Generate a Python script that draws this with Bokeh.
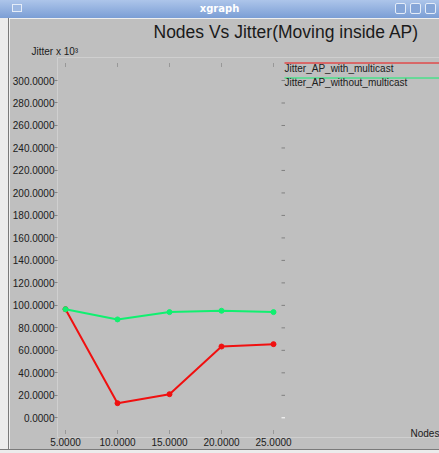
from bokeh.plotting import figure
from bokeh.models import FixedTicker, PrintfTickFormatter, Label, Div, Range1d, ColumnDataSource, Title
from bokeh.layouts import column, row
from bokeh.core.properties import value
from bokeh.embed import file_html
from bokeh.resources import INLINE

# ---------------- data ----------------
nodes = [5, 10, 15, 20, 25]
jitter_with_multicast = [96.6, 13.0, 21.0, 63.4, 65.5]
jitter_without_multicast = [96.6, 87.5, 94.0, 95.2, 94.0]
series_names = ["Jitter_AP_with_multicast", "Jitter_AP_without_multicast"]
series_colors = ["#f01010", "#10f070"]
x_ticks = [5, 10, 15, 20, 25]
y_ticks = [0, 20, 40, 60, 80, 100, 120, 140, 160, 180, 200, 220, 240, 260, 280, 300]
title_text = "Nodes Vs Jitter(Moving inside AP)"
y_label = "Jitter x 10\u00b3"
x_label = "Nodes"

# ---------------- geometry (page pixels) ----------------
BG = "#bfbfbf"
FONT = "Liberation Sans"
WIN_W, WIN_H = 439, 453
BAR_H = 18
LEFT_W = 9
BOTTOM_H = 4
FIG_X, FIG_Y = LEFT_W, BAR_H
FIG_W, FIG_H = WIN_W - LEFT_W, WIN_H - BAR_H - BOTTOM_H
FRAME_L, FRAME_R, FRAME_T, FRAME_B = 57, WIN_W, 57, 437
X5_PX, X25_PX = 65.0, 273.0
Y0_PX, Y300_PX = 417.3, 80.0
sx = (X25_PX - X5_PX) / 20.0
sy = (Y0_PX - Y300_PX) / 300.0


def xd(px):
    return 5 + (px - X5_PX) / sx


def yd(py):
    return (Y0_PX - py) / sy


p = figure(width=FIG_W, height=FIG_H, output_backend="svg", toolbar_location=None,
           x_range=Range1d(xd(FRAME_L), xd(FRAME_R)),
           y_range=Range1d(yd(FRAME_B), yd(FRAME_T)),
           min_border_left=FRAME_L - FIG_X, min_border_right=0,
           min_border_top=FRAME_T - FIG_Y,
           min_border_bottom=FIG_Y + FIG_H - FRAME_B)
p.background_fill_color = BG
p.border_fill_color = BG
p.outline_line_color = None
p.grid.visible = False

# axes
xa = p.xaxis[0]
xa.ticker = FixedTicker(ticks=x_ticks)
xa.formatter = PrintfTickFormatter(format="%.4f")
xa.axis_line_color = None
xa.major_tick_line_color = None
xa.major_tick_in = 0
xa.major_tick_out = 0
xa.minor_tick_line_color = None
xa.major_label_standoff = 0
xa.major_label_text_font = FONT
xa.major_label_text_font_size = "10px"
xa.major_label_text_color = "#202020"

ya = p.yaxis[0]
ya.ticker = FixedTicker(ticks=y_ticks)
ya.formatter = PrintfTickFormatter(format="%.4f")
ya.axis_line_color = None
ya.major_tick_in = 0
ya.major_tick_out = 3
ya.major_tick_line_color = "#808080"
ya.minor_tick_line_color = None
ya.major_label_standoff = 0
ya.major_label_text_font = FONT
ya.major_label_text_font_size = "10px"
ya.major_label_text_color = "#202020"

# xgraph-style tick marks on the top, bottom and right edges
n = len(x_ticks)
p.segment(x0=x_ticks, x1=x_ticks, y0=[yd(66)] * n, y1=[yd(62)] * n,
          line_color="#707070", line_width=1, line_dash="1 1")
p.segment(x0=x_ticks, x1=x_ticks, y0=[yd(433)] * n, y1=[yd(429)] * n,
          line_color="#707070", line_width=1, line_dash="1 1")
rt = ColumnDataSource(dict(y=y_ticks, c=["white" if t == 0 else "#808080" for t in y_ticks]))
p.segment(x0=xd(281), x1=xd(284.5), y0="y", y1="y", line_color="c", line_width=1, source=rt)

# series
series = [jitter_with_multicast, jitter_without_multicast]
for vals, col in zip(series, series_colors):
    p.line(nodes, vals, line_color=col, line_width=2)
    p.scatter(nodes, vals, size=5, color=col)

# legend (xgraph style: line above the name)
leg_line_y = [62.5, 77.5]
leg_text_y = [68, 82]
for name, col, ly, ty in zip(series_names, series_colors, leg_line_y, leg_text_y):
    p.segment(x0=xd(284), x1=xd(FRAME_R + 10), y0=yd(ly), y1=yd(ly), line_color=col, line_width=1)
    p.text(x=[xd(284)], y=[yd(ty)], text=[name], text_font=value(FONT), text_font_size="10px",
           text_baseline="middle", text_align="left", text_color="#202020")

# x label, inside the frame's bottom right corner
p.add_layout(Label(x=xd(410), y=yd(433), text=x_label, text_font=FONT, text_font_size="10px",
                   text_baseline="middle", text_align="left", text_color="#202020"))

# titles above the frame (first added sits nearest the frame)
p.add_layout(Title(text=y_label, align="left", offset=31 - FRAME_L, standoff=2,
                   text_font=FONT, text_font_size="10px", text_font_style="normal",
                   text_color="#202020"), "above")
p.add_layout(Title(text=title_text, align="left", offset=153 - FRAME_L, standoff=2,
                   text_font=FONT, text_font_size="17.5px", text_font_style="normal",
                   text_color="#1a1a1a"), "above")

btn = ("position:absolute;top:3px;width:11px;height:11px;border:1px solid #e4ecf8;"
       "border-radius:2px;background:#86a6d8;")
bar_html = (
    '<div style="position:relative;width:%dpx;height:%dpx;'
    'background:linear-gradient(#adc5ea,#7b9ed5);color:#ffffff;'
    'font-family:\'DejaVu Sans\';font-weight:bold;font-size:10px;'
    'text-align:center;line-height:%dpx;overflow:hidden;">xgraph'
    '<span style="position:absolute;left:12px;top:4px;width:10px;height:8px;'
    'border:1px solid #e4ecf8;background:#9db8e2;"></span>'
    '<span style="%sleft:395px;"></span>'
    '<span style="%sleft:410px;"></span>'
    '<span style="%sleft:425px;"></span>'
    '</div>' % (WIN_W, BAR_H, BAR_H, btn, btn, btn)
)
bar = Div(text=bar_html, width=WIN_W, height=BAR_H, margin=0)
left = Div(text="", width=LEFT_W, height=FIG_H, margin=0,
           styles={"background": "linear-gradient(to right, #ececec 8px, #7a7a7a 8px)"})
bottom = Div(text="", width=WIN_W, height=BOTTOM_H, margin=0,
             styles={"background": "linear-gradient(#7a7a7a 1px, #ececec 1px)"})

layout = column(bar, row(left, p, spacing=0), bottom, spacing=0)
open("out.html", "w").write(file_html(layout, INLINE))
